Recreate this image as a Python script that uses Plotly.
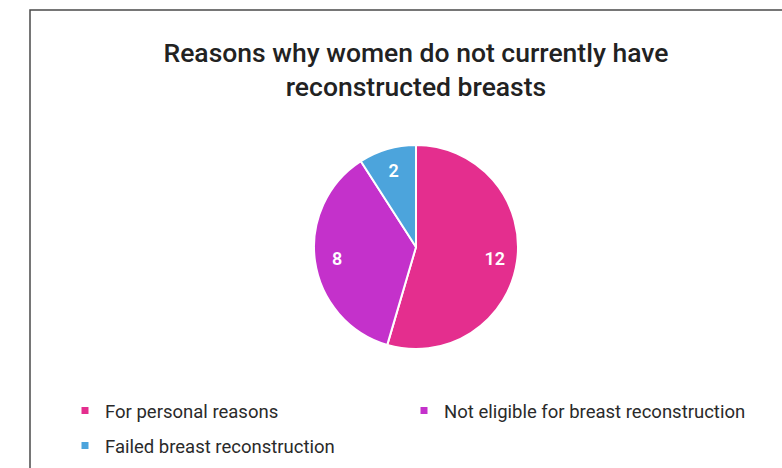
import plotly.graph_objects as go

labels = ["For personal reasons", "Not eligible for breast reconstruction", "Failed breast reconstruction"]
values = [12, 8, 2]
colors = ["#E42E8E", "#C431CB", "#4CA4DC"]
title_text = "Reasons why women do not currently have<br>reconstructed breasts"

W, H = 782, 468
cx, cy, r = 416, 247, 102
domain = dict(x=[(cx - r) / W, (cx + r) / W], y=[1 - (cy + r) / H, 1 - (cy - r) / H])

fig = go.Figure()
# filled pie (no text)
fig.add_trace(go.Pie(
    labels=labels, values=values, sort=False, direction="clockwise", rotation=0,
    marker=dict(colors=colors, line=dict(color="white", width=2)),
    textinfo="none", domain=domain, showlegend=False, hoverinfo="label+value",
))
# transparent ring carrying the value labels near the rim
fig.add_trace(go.Pie(
    labels=labels, values=values, sort=False, direction="clockwise", rotation=0, hole=0.56,
    marker=dict(colors=["rgba(0,0,0,0)"] * 3, line=dict(width=0)),
    textinfo="value", textposition="inside", insidetextorientation="horizontal",
    textfont=dict(family="Roboto", size=18, color="white", weight=600),
    domain=domain, showlegend=False, hoverinfo="skip",
))

legend_pos = [("legend", 105, 411), ("legend2", 444, 411), ("legend3", 105, 446)]
for lab, col, (lg, _, _) in zip(labels, colors, legend_pos):
    fig.add_trace(go.Scatter(x=[None], y=[None], mode="markers", name=lab, legend=lg,
                             marker=dict(symbol="square", size=7, color=col)))

leg_common = dict(font=dict(family="Roboto", size=18.5, color="#2a2a2a"), bgcolor="rgba(0,0,0,0)",
                  itemwidth=30, xanchor="left", yanchor="middle")
legends = {lg: dict(x=(tx - 40) / W, y=1 - ty / H, **leg_common) for lg, tx, ty in legend_pos}

fig.update_layout(
    width=W, height=H, margin=dict(l=0, r=0, t=0, b=0),
    paper_bgcolor="white", plot_bgcolor="white",
    xaxis=dict(visible=False), yaxis=dict(visible=False),
    title=dict(text=title_text, x=cx / W, xanchor="center", y=1 - 62 / H, yanchor="top",
               font=dict(family="Roboto", size=26.5, color="#222222", weight=500)),
    shapes=[dict(type="rect", xref="paper", yref="paper", x0=30 / W, x1=1.05, y0=-0.05, y1=1 - 10 / H,
                 line=dict(color="#4a4a4a", width=1.5), fillcolor="rgba(0,0,0,0)", layer="below")],
    **legends,
)
fig.write_html("out.html")
